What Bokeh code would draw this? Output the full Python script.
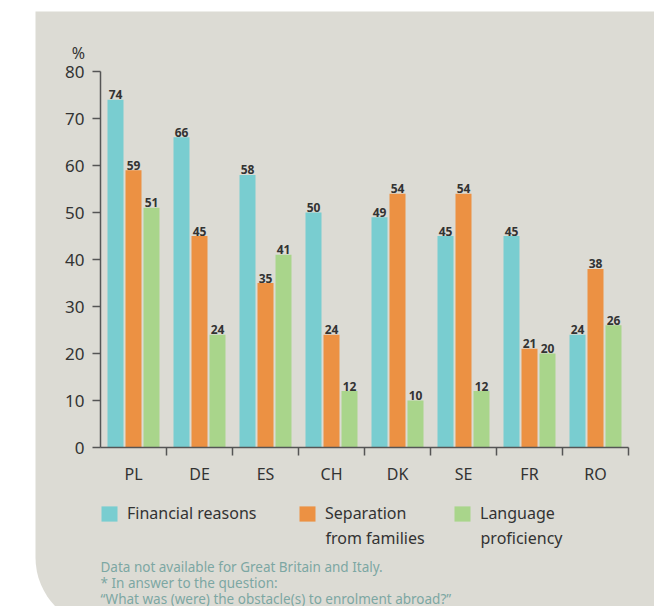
from bokeh.plotting import figure
from bokeh.models import (Range1d, FixedTicker, BoxAnnotation, Label, Legend,
                          LegendItem, ColumnDataSource, LinearAxis)
from bokeh.embed import file_html
from bokeh.resources import INLINE
from bokeh.core.properties import value

# ---- data ----
categories = ["PL", "DE", "ES", "CH", "DK", "SE", "FR", "RO"]
financial = [74, 66, 58, 50, 49, 45, 45, 24]
separation = [59, 45, 35, 24, 54, 54, 21, 38]
language = [51, 24, 41, 12, 10, 12, 20, 26]
y_ticks = [0, 10, 20, 30, 40, 50, 60, 70, 80]
series_names = ["Financial reasons", "Separation\nfrom families", "Language\nproficiency"]
footnotes = ["Data not available for Great Britain and Italy.",
             "* In answer to the question:",
             "\u201cWhat was (were) the obstacle(s) to enrolment abroad?\u201d"]

# ---- style ----
colors = ["#79CDD0", "#EC9143", "#A9D58B"]
panel = "#DCDBD4"
dark = "#333333"
axis_col = "#555555"
note_col = "#7CA7A3"
FONT = "Noto Sans"

W, H = 654, 606
# pixel geometry of the plotting area (axis corner at FL, FB)
FL, FR, FT, FB = 100, 628, 71, 447
NCAT = len(categories)
YMAX = 80

def xd(px):
    return (px - FL) / (FR - FL) * NCAT

def yd(py):
    return (FB - py) / (FB - FT) * YMAX

p = figure(width=W, height=H, x_range=Range1d(xd(0), xd(W)), y_range=Range1d(yd(H), yd(0)),
           output_backend="svg", toolbar_location=None,
           x_axis_type=None, y_axis_type=None, min_border=0)
p.background_fill_color = "white"
p.border_fill_color = "white"
p.outline_line_color = None
p.grid.visible = False

# grey panel with rounded bottom-left corner
p.add_layout(BoxAnnotation(left=xd(35), right=xd(W + 50), top=yd(11), bottom=yd(627),
                           fill_color=panel, fill_alpha=1, line_color=None,
                           border_radius=dict(top_left=0, top_right=0, bottom_right=0, bottom_left=70),
                           level="underlay"))

# axes
xa = LinearAxis(fixed_location=0, bounds=(0, NCAT))
xa.ticker = FixedTicker(ticks=[i + 0.5 for i in range(NCAT)],
                        minor_ticks=[i + 1 for i in range(NCAT)])
xa.major_label_overrides = {i + 0.5: c for i, c in enumerate(categories)}
xa.major_tick_line_color = None
xa.major_tick_out = 0
xa.major_tick_in = 0
xa.minor_tick_out = 8
xa.minor_tick_in = 0
xa.minor_tick_line_color = axis_col
xa.minor_tick_line_width = 1.5
xa.axis_line_color = axis_col
xa.axis_line_width = 1.5
xa.major_label_standoff = 7
xa.major_label_text_font = FONT
xa.major_label_text_font_size = "16px"
xa.major_label_text_color = dark
p.add_layout(xa, "below")

ya = LinearAxis(fixed_location=0, bounds=(0, YMAX))
ya.ticker = FixedTicker(ticks=y_ticks)
ya.major_tick_out = 8
ya.major_tick_in = 0
ya.major_tick_line_color = axis_col
ya.major_tick_line_width = 1.5
ya.minor_tick_line_color = None
ya.axis_line_color = axis_col
ya.axis_line_width = 1.5
ya.major_label_standoff = 8
ya.major_label_text_font = FONT
ya.major_label_text_font_size = "17px"
ya.major_label_text_color = dark
p.add_layout(ya, "left")

# bars
bw = 16 / 66
offsets = [-18 / 66, 0, 18 / 66]
lab_pad = 5 / (FB - FT) * YMAX   # 5 px gap above bars, in data units
renderers = []
for vals, col, off in zip([financial, separation, language], colors, offsets):
    src = ColumnDataSource(dict(x=[i + 0.5 + off for i in range(NCAT)], top=vals,
                                ly=[v + lab_pad for v in vals],
                                lab=[str(v) for v in vals]))
    r = p.vbar(x="x", top="top", width=bw, bottom=0, source=src,
               fill_color=col, line_color=None)
    renderers.append(r)
    p.text(x="x", y="ly", text="lab", source=src, text_align="center",
           text_baseline="alphabetic", text_font=value(FONT),
           text_font_style="bold", text_font_size="12px", text_color=dark)

# "%" unit label
p.add_layout(Label(x=xd(78), y=yd(52), text="%", text_align="center",
                   text_baseline="middle", text_font=FONT, text_font_size="16px",
                   text_color=dark))

# legends (one per series, first line in the legend, second line as a label)
leg_x = [99, 297, 452]
GW, GS = 20, 8
for name, r, lx in zip(series_names, renderers, leg_x):
    lines = name.split("\n")
    lg = Legend(items=[LegendItem(label=lines[0], renderers=[r])],
                location=(lx, H - 524), orientation="horizontal",
                glyph_width=GW, glyph_height=19, label_height=19,
                label_standoff=GS, padding=0, margin=0, spacing=0,
                border_line_color=None, background_fill_alpha=0,
                label_text_font=FONT, label_text_font_size="16px",
                label_text_color=dark)
    p.add_layout(lg, "center")
    for k, extra in enumerate(lines[1:]):
        p.add_layout(Label(x=xd(lx + GW + GS), y=yd(537 + 23 * k), text=extra,
                           text_align="left", text_baseline="middle",
                           text_font=FONT, text_font_size="16px", text_color=dark))

# footnote
for i, t in enumerate(footnotes):
    p.add_layout(Label(x=0, y=yd(566 + 16 * i), text=t, text_align="left",
                       text_baseline="middle", text_font=FONT,
                       text_font_size="13.5px", text_color=note_col))

open("out.html", "w").write(file_html(p, INLINE))
